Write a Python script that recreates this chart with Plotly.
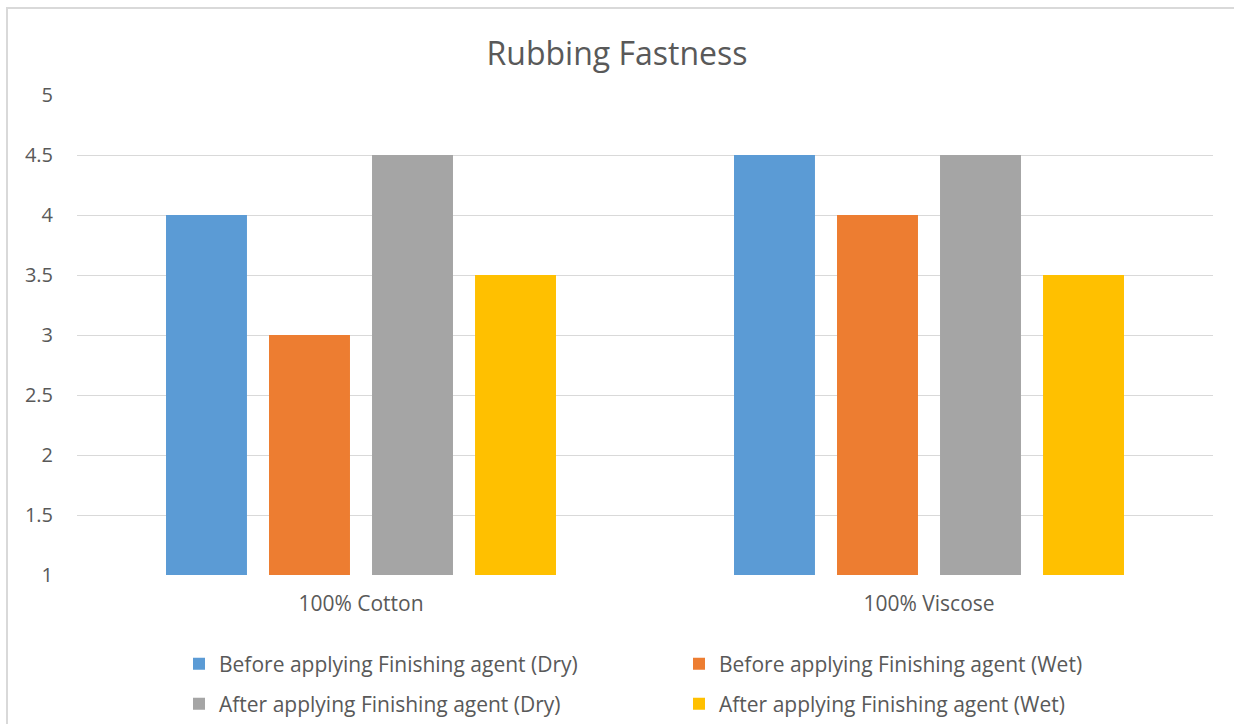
import plotly.graph_objects as go

# Rubbing fastness grades for two fabrics, before/after finishing
categories = ["100% Cotton", "100% Viscose"]
series_names = [
    "Before applying Finishing agent (Dry)",
    "Before applying Finishing agent (Wet)",
    "After applying Finishing agent (Dry)",
    "After applying Finishing agent (Wet)",
]
before_dry = [4, 4.5]
before_wet = [3, 4]
after_dry = [4.5, 4.5]
after_wet = [3.5, 3.5]
y_ticks = [1, 1.5, 2, 2.5, 3, 3.5, 4, 4.5, 5]

colors = ["#5B9BD5", "#ED7D31", "#A5A5A5", "#FFC000"]
values = [before_dry, before_wet, after_dry, after_wet]
legends = ["legend", "legend", "legend2", "legend2"]

TEXT = "#595959"
GRID = "#D9D9D9"
FONT = "Open Sans"

fig = go.Figure()
for name, vals, col, lg in zip(series_names, values, colors, legends):
    fig.add_trace(go.Bar(
        x=categories, y=vals, name=name, legend=lg,
        marker=dict(color=col, line=dict(width=0)),
        base=0,
    ))

W, H = 1234, 724
L, R, T, B = 77, 21, 95, 149
pw, ph = W - L - R, H - T - B

def px_x(p):
    return (p - L) / pw

def px_y(p):
    return (H - B - p) / ph

legend_common = dict(
    orientation="h", xanchor="left", yanchor="middle",
    entrywidth=455, entrywidthmode="pixels",
    font=dict(family=FONT, size=21, color=TEXT),
    bgcolor="rgba(0,0,0,0)", traceorder="normal",
    itemclick=False, itemdoubleclick=False,
)

fig.update_layout(
    width=W, height=H,
    margin=dict(l=L, r=R, t=T, b=B, pad=0, autoexpand=False),
    paper_bgcolor="white", plot_bgcolor="white",
    barmode="group", bargap=0.2746, bargroupgap=0.214,
    title=dict(text="Rubbing Fastness", x=0.5, xanchor="center",
               y=1 - 54 / H, yanchor="middle",
               font=dict(family=FONT, size=32, color=TEXT)),
    font=dict(family=FONT, color=TEXT),
    legend=dict(x=px_x(179), y=px_y(664), **legend_common),
    legend2=dict(x=px_x(179), y=px_y(704), **legend_common),
    xaxis=dict(
        showgrid=False, showline=False, zeroline=False,
        ticks="", tickfont=dict(family=FONT, size=21, color=TEXT),
        ticklabelstandoff=14,
    ),
    yaxis=dict(
        range=[1, 5], tickvals=y_ticks,
        ticktext=[f"{v:g}" for v in y_ticks],
        showgrid=True, gridcolor=GRID, gridwidth=1.3,
        zeroline=False, showline=False, ticks="",
        tickfont=dict(family=FONT, size=20, color=TEXT),
        ticklabelstandoff=23,
    ),
    shapes=[dict(
        type="rect", xref="paper", yref="paper",
        x0=px_x(7), x1=px_x(W + 20), y0=px_y(H + 20), y1=px_y(8),
        line=dict(color=GRID, width=2), fillcolor="rgba(0,0,0,0)",
        layer="below",
    )],
)

fig.write_html("out.html")
